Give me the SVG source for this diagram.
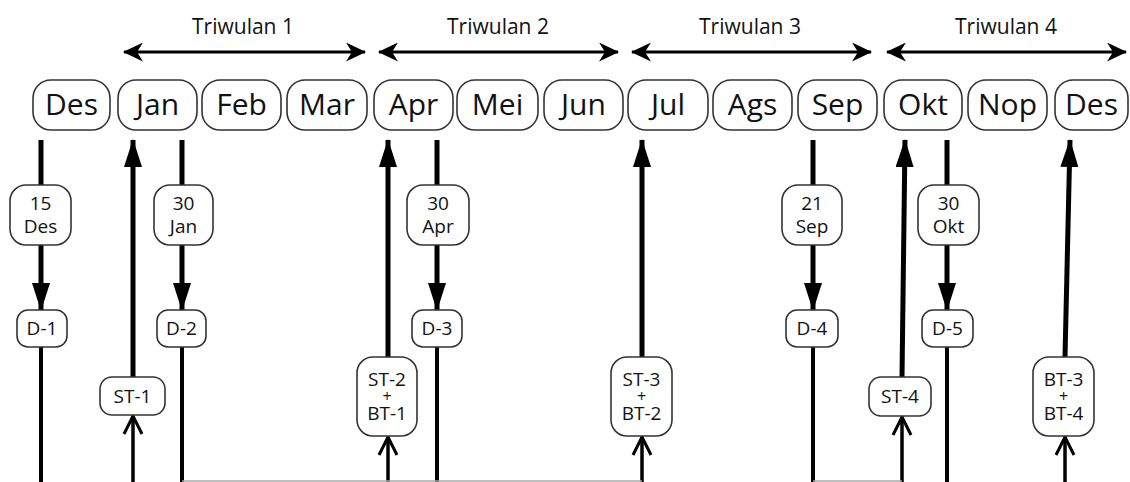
<svg xmlns="http://www.w3.org/2000/svg" width="1130" height="482" viewBox="0 0 1130 482">
<style>
.box{fill:#fff;stroke:#333;stroke-width:1.6}
.mt{font-family:"Open Sans","Noto Sans",sans-serif;font-size:30px;fill:#111;text-anchor:middle}
.st{font-family:"Open Sans","Noto Sans",sans-serif;font-size:19px;fill:#111;text-anchor:middle}
.pl{font-size:16px}
.tw{font-family:"Open Sans","Noto Sans",sans-serif;font-size:21px;fill:#111;text-anchor:middle}
.thick{stroke:#000;stroke-width:5;fill:none}
.mid{stroke:#000;stroke-width:4;fill:none}
.thin{stroke:#000;stroke-width:3.5;fill:none}
.gray{stroke:#aaa;stroke-width:1.5;fill:none}
.tri{stroke:#000;stroke-width:3;fill:none}
</style>
<defs>
<marker id="tri" viewBox="0 0 28 18" refX="27" refY="9" markerWidth="28" markerHeight="18" markerUnits="userSpaceOnUse" orient="auto"><path d="M0,0 L28,9 L0,18 z" fill="#000"/></marker>
<marker id="chev" viewBox="0 0 22 22" refX="20" refY="11" markerWidth="22" markerHeight="22" markerUnits="userSpaceOnUse" orient="auto"><path d="M2,2 L20,11 L2,20" fill="none" stroke="#000" stroke-width="3"/></marker>
<marker id="stl" viewBox="0 0 20 19" refX="19" refY="9.5" markerWidth="20" markerHeight="19" markerUnits="userSpaceOnUse" orient="auto-start-reverse"><path d="M0,0 L20,9.5 L0,19 L6,9.5 z" fill="#000"/></marker>
</defs>

<g id="connectors">
  <!-- Triwulan arrows -->
  <line class="tri" x1="124" y1="52" x2="365" y2="52" marker-start="url(#stl)" marker-end="url(#stl)"/>
  <line class="tri" x1="379" y1="52" x2="618" y2="52" marker-start="url(#stl)" marker-end="url(#stl)"/>
  <line class="tri" x1="632" y1="52" x2="871" y2="52" marker-start="url(#stl)" marker-end="url(#stl)"/>
  <line class="tri" x1="887" y1="52" x2="1126" y2="52" marker-start="url(#stl)" marker-end="url(#stl)"/>

  <!-- Des -->
  <line class="thick" x1="41" y1="140" x2="41" y2="185"/>
  <line class="thick" x1="41" y1="245" x2="41" y2="310" marker-end="url(#tri)"/>
  <line class="mid" x1="41" y1="347" x2="41" y2="482"/>
  <!-- ST-1 -->
  <line class="thin" x1="133" y1="482" x2="133" y2="416" marker-end="url(#chev)"/>
  <line class="thick" x1="133" y1="377" x2="133" y2="140" marker-end="url(#tri)"/>
  <!-- Jan -->
  <line class="thick" x1="182" y1="140" x2="182" y2="185"/>
  <line class="thick" x1="182" y1="245" x2="182" y2="310" marker-end="url(#tri)"/>
  <line class="mid" x1="182" y1="347" x2="182" y2="482"/>
  <!-- ST-2 -->
  <line class="thin" x1="388" y1="482" x2="388" y2="437" marker-end="url(#chev)"/>
  <line class="thick" x1="388" y1="357" x2="388" y2="140" marker-end="url(#tri)"/>
  <!-- Apr -->
  <line class="thick" x1="437" y1="140" x2="437" y2="185"/>
  <line class="thick" x1="437" y1="245" x2="437" y2="310" marker-end="url(#tri)"/>
  <line class="mid" x1="437" y1="347" x2="437" y2="482"/>
  <!-- ST-3 -->
  <line class="thin" x1="642" y1="482" x2="642" y2="437" marker-end="url(#chev)"/>
  <line class="thick" x1="642" y1="357" x2="642" y2="140" marker-end="url(#tri)"/>
  <!-- Sep -->
  <line class="thick" x1="813" y1="140" x2="813" y2="185"/>
  <line class="thick" x1="813" y1="245" x2="813" y2="310" marker-end="url(#tri)"/>
  <line class="mid" x1="813" y1="347" x2="813" y2="482"/>
  <!-- ST-4 -->
  <line class="thin" x1="902" y1="482" x2="902" y2="417" marker-end="url(#chev)"/>
  <line class="thick" x1="902" y1="377" x2="905" y2="140" marker-end="url(#tri)"/>
  <!-- Okt -->
  <line class="thick" x1="947" y1="140" x2="947" y2="185"/>
  <line class="thick" x1="947" y1="245" x2="947" y2="310" marker-end="url(#tri)"/>
  <line class="mid" x1="947" y1="347" x2="947" y2="482"/>
  <!-- BT-3 -->
  <line class="thin" x1="1065" y1="482" x2="1065" y2="437" marker-end="url(#chev)"/>
  <line class="thick" x1="1065" y1="357" x2="1070" y2="140" marker-end="url(#tri)"/>

  <!-- bottom gray links -->
  <line class="gray" x1="182" y1="481" x2="642" y2="481"/>
  <line class="gray" x1="813" y1="481" x2="902" y2="481"/>
</g>

<g id="triwulan-1"><text class="tw" x="243" y="34">Triwulan 1</text></g>
<g id="triwulan-2"><text class="tw" x="498" y="34">Triwulan 2</text></g>
<g id="triwulan-3"><text class="tw" x="750" y="34">Triwulan 3</text></g>
<g id="triwulan-4"><text class="tw" x="1006" y="34">Triwulan 4</text></g>

<g id="m-des0"><rect class="box" x="33" y="80" width="77" height="50" rx="18"/><text class="mt" x="71.5" y="115">Des</text></g>
<g id="m-jan"><rect class="box" x="118" y="80" width="79" height="50" rx="18"/><text class="mt" x="157.5" y="115">Jan</text></g>
<g id="m-feb"><rect class="box" x="202" y="80" width="79" height="50" rx="18"/><text class="mt" x="241.5" y="115">Feb</text></g>
<g id="m-mar"><rect class="box" x="287" y="80" width="80" height="50" rx="18"/><text class="mt" x="327" y="115">Mar</text></g>
<g id="m-apr"><rect class="box" x="374" y="80" width="79" height="50" rx="18"/><text class="mt" x="413.5" y="115">Apr</text></g>
<g id="m-mei"><rect class="box" x="457" y="80" width="81" height="50" rx="18"/><text class="mt" x="497.5" y="115">Mei</text></g>
<g id="m-jun"><rect class="box" x="544" y="80" width="79" height="50" rx="18"/><text class="mt" x="583.5" y="115">Jun</text></g>
<g id="m-jul"><rect class="box" x="628" y="80" width="80" height="50" rx="18"/><text class="mt" x="668" y="115">Jul</text></g>
<g id="m-ags"><rect class="box" x="713" y="80" width="79" height="50" rx="18"/><text class="mt" x="752.5" y="115">Ags</text></g>
<g id="m-sep"><rect class="box" x="798" y="80" width="79" height="50" rx="18"/><text class="mt" x="837.5" y="115">Sep</text></g>
<g id="m-okt"><rect class="box" x="884" y="80" width="78" height="50" rx="18"/><text class="mt" x="923" y="115">Okt</text></g>
<g id="m-nop"><rect class="box" x="968" y="80" width="79" height="50" rx="18"/><text class="mt" x="1007.5" y="115">Nop</text></g>
<g id="m-des1"><rect class="box" x="1055" y="80" width="73" height="50" rx="18"/><text class="mt" x="1091.5" y="115">Des</text></g>

<g id="date-15des"><rect class="box" x="10" y="185" width="61" height="60" rx="16"/><text class="st"><tspan x="40.5" y="210">15</tspan><tspan x="40.5" y="233">Des</tspan></text></g>
<g id="date-30jan"><rect class="box" x="154" y="185" width="59" height="60" rx="16"/><text class="st"><tspan x="183.5" y="210">30</tspan><tspan x="183.5" y="233">Jan</tspan></text></g>
<g id="date-30apr"><rect class="box" x="407" y="185" width="62" height="60" rx="16"/><text class="st"><tspan x="438" y="210">30</tspan><tspan x="438" y="233">Apr</tspan></text></g>
<g id="date-21sep"><rect class="box" x="782" y="185" width="60" height="60" rx="16"/><text class="st"><tspan x="812" y="210">21</tspan><tspan x="812" y="233">Sep</tspan></text></g>
<g id="date-30okt"><rect class="box" x="918" y="185" width="61" height="60" rx="16"/><text class="st"><tspan x="948.5" y="210">30</tspan><tspan x="948.5" y="233">Okt</tspan></text></g>

<g id="d-1"><rect class="box" x="17" y="310" width="50" height="37" rx="11"/><text class="st" x="42" y="335">D-1</text></g>
<g id="d-2"><rect class="box" x="157" y="310" width="49" height="37" rx="11"/><text class="st" x="181.5" y="335">D-2</text></g>
<g id="d-3"><rect class="box" x="412" y="310" width="50" height="37" rx="11"/><text class="st" x="437" y="335">D-3</text></g>
<g id="d-4"><rect class="box" x="786" y="310" width="52" height="37" rx="11"/><text class="st" x="812" y="335">D-4</text></g>
<g id="d-5"><rect class="box" x="922" y="310" width="51" height="37" rx="11"/><text class="st" x="947.5" y="335">D-5</text></g>

<g id="st-1"><rect class="box" x="100" y="377" width="65" height="38" rx="12"/><text class="st" x="132.5" y="403">ST-1</text></g>
<g id="st-2-bt-1"><rect class="box" x="357" y="357" width="60" height="79" rx="16"/><text class="st"><tspan x="387" y="386">ST-2</tspan><tspan class="pl" x="387" y="402">+</tspan><tspan x="387" y="420">BT-1</tspan></text></g>
<g id="st-3-bt-2"><rect class="box" x="611" y="357" width="61" height="79" rx="16"/><text class="st"><tspan x="641.5" y="386">ST-3</tspan><tspan class="pl" x="641.5" y="402">+</tspan><tspan x="641.5" y="420">BT-2</tspan></text></g>
<g id="st-4"><rect class="box" x="869" y="377" width="62" height="39" rx="12"/><text class="st" x="900" y="403">ST-4</text></g>
<g id="bt-3-bt-4"><rect class="box" x="1033" y="357" width="61" height="79" rx="16"/><text class="st"><tspan x="1063.5" y="386">BT-3</tspan><tspan class="pl" x="1063.5" y="402">+</tspan><tspan x="1063.5" y="420">BT-4</tspan></text></g>
</svg>
